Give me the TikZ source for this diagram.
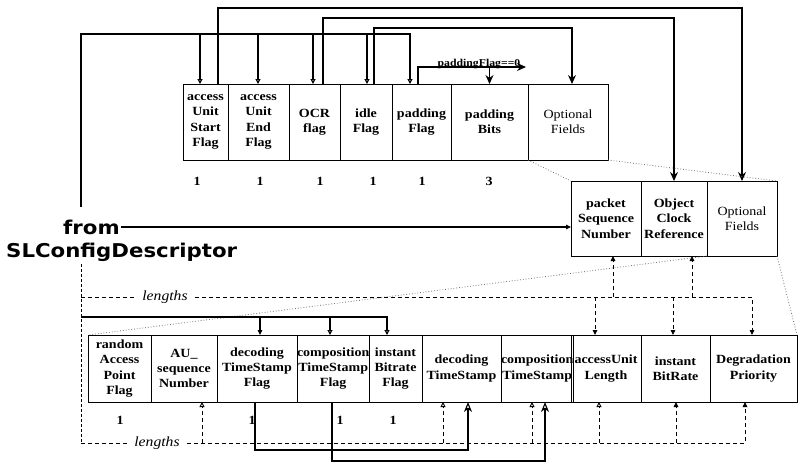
\documentclass[tikz,border=0pt]{standalone}
\usepackage{fontspec}
\setmainfont{Liberation Serif}[FakeStretch=1.12]
\newfontfamily\slfont{DejaVu Sans}[FakeStretch=1.12]
\usetikzlibrary{arrows.meta}
\newcommand\fsz{\fontsize{12.5}{15.3}\selectfont}
\begin{document}
\begin{tikzpicture}[x=1pt,y=-1pt,
  fld/.style={draw, line width=1pt, anchor=north west, inner sep=0pt, outer sep=0pt, align=center, font=\fsz\bfseries},
  optf/.style={fld, font=\fsz},
  num/.style={font=\fsz\bfseries, inner sep=1pt},
  slf/.style={font=\fontsize{19}{22}\selectfont\slfont\bfseries, inner sep=0pt},
  lenf/.style={font=\fontsize{14}{15}\selectfont\itshape, inner xsep=7pt, inner ysep=0pt},
  conn/.style={line width=1.1pt},
  dsh/.style={line width=0.9pt, dash pattern=on 4pt off 3pt},
  dsv/.style={line width=0.9pt, dash pattern=on 3pt off 2pt},
  dots/.style={line width=0.8pt, dotted, black!55},
  opentri/.style={-{Triangle[open, length=5pt, width=5pt]}},
  filtri/.style={-{Triangle[length=5pt, width=4.5pt]}},
  stl/.style={-{Stealth[length=9pt, width=8pt, inset=3pt]}},
  big/.style={-{Stealth[open, length=10pt, width=8pt, inset=3pt]}}
]
\useasboundingbox (0,0) rectangle (804,467);

% ---------- top row ----------
\node[fld, minimum width=45pt, minimum height=76pt] (t1) at (183,84) {access\\Unit\\Start\\Flag};
\node[fld, minimum width=61pt, minimum height=76pt] (t2) at (228,84) {access\\Unit\\End\\Flag};
\node[fld, minimum width=51pt, minimum height=76pt] (t3) at (289,84) {OCR\\flag};
\node[fld, minimum width=52pt, minimum height=76pt] (t4) at (340,84) {idle\\Flag};
\node[fld, minimum width=59pt, minimum height=76pt] (t5) at (392,84) {padding\\Flag};
\node[fld, minimum width=77pt, minimum height=76pt] (t6) at (451,84) {padding\\Bits};
\node[optf, minimum width=80pt, minimum height=76pt] (t7) at (528,84) {Optional\\Fields};

\node[num] (n1) at (197,181) {1};
\node[num] (n2) at (260,181) {1};
\node[num] (n3) at (320,181) {1};
\node[num] (n4) at (373,181) {1};
\node[num] (n5) at (422,181) {1};
\node[num] (n6) at (489,181) {3};

% ---------- middle row ----------
\node[fld, minimum width=70pt, minimum height=75pt] (m1) at (571,181) {packet\\Sequence\\Number};
\node[fld, minimum width=66pt, minimum height=75pt] (m2) at (641,181) {Object\\Clock\\Reference};
\node[optf, minimum width=70pt, minimum height=75pt] (m3) at (707,181) {Optional\\Fields};

% ---------- bottom row ----------
\node[fld, minimum width=63pt, minimum height=67pt] (b1) at (88,335) {random\\Access\\Point\\Flag};
\node[fld, minimum width=66pt, minimum height=67pt] (b2) at (151,335) {AU\_\\sequence\\Number};
\node[fld, minimum width=80pt, minimum height=67pt] (b3) at (217,335) {decoding\\TimeStamp\\Flag};
\node[fld, minimum width=72pt, minimum height=67pt] (b4) at (297,335) {composition\\TimeStamp\\Flag};
\node[fld, minimum width=53pt, minimum height=67pt] (b5) at (369,335) {instant\\Bitrate\\Flag};
\node[fld, minimum width=79pt, minimum height=67pt] (b6) at (422,335) {decoding\\TimeStamp};
\node[fld, minimum width=70pt, minimum height=67pt] (b7) at (501,335) {composition\\TimeStamp};
\node[fld, minimum width=70pt, minimum height=67pt] (b8) at (571,335) {accessUnit\\Length};
\node[fld, minimum width=69pt, minimum height=67pt] (b9) at (641,335) {instant\\BitRate};
\node[fld, minimum width=87pt, minimum height=67pt] (b10) at (710,335) {Degradation\\Priority};

\node[num] (k1) at (120,420) {1};
\node[num] (k2) at (252,420) {1};
\node[num] (k3) at (340,420) {1};
\node[num] (k4) at (393,420) {1};

% ---------- from SLConfigDescriptor ----------
\node[slf, anchor=base west] (from) at (63,234) {from};
\node[slf, anchor=base west] (slc) at (6,257) {SLConfigDescriptor};
\coordinate (src) at (81,207);
\coordinate (fromend) at ([xshift=1pt]from.east |- 0,227);
\draw[conn, filtri] (fromend) -- (fromend -| m1.west);

% top bus with open triangles
\draw[conn, opentri] (src) -- (81,34) -| ([xshift=18pt]t5.north west);
\draw[conn, opentri] ([xshift=17pt]t1.north west) ++(0,-50) -- ++(0,50);
\draw[conn, opentri] ([xshift=30pt]t2.north west) ++(0,-50) -- ++(0,50);
\draw[conn, opentri] ([xshift=24pt]t3.north west) ++(0,-50) -- ++(0,50);
\draw[conn, opentri] ([xshift=27pt]t4.north west) ++(0,-50) -- ++(0,50);

% flags controlling optional fields
\draw[conn, stl] ([xshift=35pt]t1.north west) -- ++(0,-76) -| (m3.north);
\draw[conn, stl] ([xshift=34pt]t3.north west) -- ++(0,-66) -| (m2.north);
\draw[conn, stl] ([xshift=34pt]t4.north west) -- ++(0,-56) -| ([xshift=4pt]t7.north);

% padding flag
\coordinate (pfend) at (526,67);
\draw[conn, stl] ([xshift=26pt]t5.north west) -- ++(0,-17) -- (pfend);
\draw[conn, stl] ([yshift=17pt]t6.north) -- (t6.north);
\node[font=\fontsize{10.5}{12}\selectfont\bfseries, anchor=base, inner sep=0pt] (pfl) at (479,66) {paddingFlag==0};

% expansion dotted lines
\draw[dots] (t7.south west) -- (m1.north west);
\draw[dots] (t7.south east) -- (m3.north east);
\draw[dots] (m3.south west) -- (b1.north west);
\draw[dots] (m3.south east) -- (b10.north east);

% dashed source line
\coordinate (dtop) at (81,264);
\coordinate (la) at (81,297);
\coordinate (sj) at (81,317);
\coordinate (dbot) at (81,443);
\draw[dsv] (dtop) -- (dbot);

% upper lengths
\node[lenf] (lenA) at (165,297) {lengths};
\draw[dsh] (la) -- (lenA.west);
\draw[dsh, filtri] (lenA.east) -| ([xshift=42pt]b10.north west);
\draw[dsh, filtri] ([xshift=24pt]b8.north west) ++(0,-38) -- ++(0,38);
\draw[dsh, filtri] ([xshift=32pt]b9.north west) ++(0,-38) -- ++(0,38);
\draw[dsh, filtri] ([xshift=42pt]m1.south west) ++(0,41) -- ++(0,-41);
\draw[dsh, filtri] ([xshift=51pt]m2.south west) ++(0,41) -- ++(0,-41);

% solid flag line into bottom row
\draw[conn, opentri] (sj) -| ([xshift=18pt]b5.north west);
\draw[conn, filtri] ([xshift=43pt]b3.north west) ++(0,-18) -- ++(0,18);
\draw[conn, opentri] ([xshift=33pt]b4.north west) ++(0,-18) -- ++(0,18);

% lower lengths
\node[lenf] (lenB) at (157,443) {lengths};
\draw[dsh] (dbot) -- (lenB.west);
\draw[dsh, filtri] (lenB.east) -| ([xshift=35pt]b10.south west);
\draw[dsh, opentri] ([xshift=51pt]b2.south west) ++(0,41) -- ++(0,-41);
\draw[dsh, opentri] ([xshift=21pt]b6.south west) ++(0,41) -- ++(0,-41);
\draw[dsh, opentri] ([xshift=31pt]b7.south west) ++(0,41) -- ++(0,-41);
\draw[dsh, opentri] ([xshift=28pt]b8.south west) ++(0,41) -- ++(0,-41);
\draw[dsh, filtri] ([xshift=35pt]b9.south west) ++(0,41) -- ++(0,-41);

% time stamp flags to time stamps
\draw[conn, big] ([xshift=38pt]b3.south west) -- ++(0,48) -| ([xshift=46pt]b6.south west);
\draw[conn, big] ([xshift=35pt]b4.south west) -- ++(0,59) -| ([xshift=44pt]b7.south west);
\end{tikzpicture}
\end{document}
